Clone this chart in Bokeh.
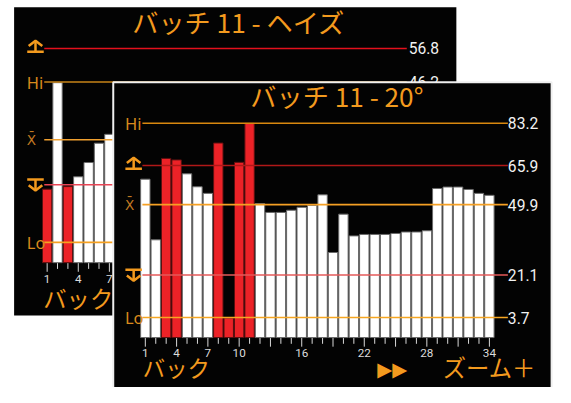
from bokeh.plotting import figure
from bokeh.models import Range1d, ColumnDataSource
from bokeh.embed import file_html
from bokeh.resources import INLINE
from bokeh.core.properties import value

# ---------------- data ----------------
front_title = "バッチ 11 - 20°"
front_batches = list(range(1, 35))
front_values = [60.3, 35.5, 68.8, 68.2, 62.5, 57.2, 54.5, 75.1, 3.5, 67.2,
                83.2, 50.3, 46.7, 46.7, 47.6, 48.8, 49.6, 53.9, 30.3, 46.0,
                37.1, 37.7, 37.7, 37.7, 38.1, 38.7, 38.7, 39.2, 56.5, 57.1,
                57.1, 56.1, 54.5, 53.7]
front_tick_labels = [1, 4, 7, 10, 16, 22, 28, 34]
front_limit_names = ["Hi", "UCL", "Mean", "LCL", "Lo"]
front_limit_values = [83.2, 65.9, 49.9, 21.1, 3.7]

back_title = "バッチ 11 - ヘイズ"
back_batches = [1, 2, 3, 4, 5, 6, 7]
back_values = [12.4, 46.0, 13.2, 16.3, 20.8, 26.9, 29.7]
back_tick_labels = [1, 4, 7]
back_limit_names = ["Hi", "UCL", "Mean", "LCL", "Lo"]
back_limit_values = [46.2, 56.8, 28.0, 13.8, -4.4]

# ---------------- layout ----------------
# The canvas is laid out in a 571 x 403 design space, drawn into 555 x 387 px.
W, H = 555, 387
PX_L, PX_R, PX_T, PX_B = 0, 571, 0, 403
S = W / PX_R  # font scale


def fs(px):
    return f"{px * S:.1f}px"


# front panel geometry (design-space pixels)
F_X1_PX, F_XSTEP = 149.0, 10.727
F_BASE_PX, F_SCALE, F_BASE_VAL = 351.0, 2.545, -4.5
# back panel geometry
B_X1_PX, B_XSTEP = 48.0, 10.67
B_BASE_PX, B_SCALE, B_BASE_VAL = 273.0, 3.30, -10.8


def xr(x1px, step):
    return Range1d(1 + (PX_L - x1px) / step, 1 + (PX_R - x1px) / step)


def yr(base_px, scale, base_val):
    return Range1d(base_val + (base_px - PX_B) / scale, base_val + (base_px - PX_T) / scale)


def f_px(v):
    return F_BASE_PX - (v - F_BASE_VAL) * F_SCALE


def b_px(v):
    return B_BASE_PX - (v - B_BASE_VAL) * B_SCALE


p = figure(width=W, height=H, x_range=Range1d(PX_L, PX_R), y_range=Range1d(PX_B, PX_T),
           x_axis_type=None, y_axis_type=None, toolbar_location=None,
           output_backend="svg", min_border=0, outline_line_color=None,
           background_fill_color="white", border_fill_color="white")
p.extra_x_ranges = {"fx": xr(F_X1_PX, F_XSTEP), "bx": xr(B_X1_PX, B_XSTEP)}
p.extra_y_ranges = {"fy": yr(F_BASE_PX, F_SCALE, F_BASE_VAL),
                    "by": yr(B_BASE_PX, B_SCALE, B_BASE_VAL)}

ORANGE = "#f39a1e"
LABEL_OR = "#d98a1c"
CJK = value("Noto Sans CJK JP")

line_colors_front = {"Hi": "#d9880f", "UCL": "#b01818", "Mean": "#f5a024",
                     "LCL": "#e45a5a", "Lo": "#f5a623"}
line_colors_back = {"Hi": "#c98418", "UCL": "#e3101c", "Mean": "#f0a030",
                    "LCL": "#e84454", "Lo": "#f5a020"}


def ucl_symbol(cx, cy, color):
    p.multi_line(xs=[[cx - 7, cx, cx + 7], [cx, cx], [cx - 8.5, cx + 8.5]],
                 ys=[[cy - 1, cy - 6.5, cy - 1], [cy - 6.5, cy + 5], [cy + 5, cy + 5]],
                 line_color=color, line_width=2.5)


def lcl_symbol(cx, cy, color):
    p.multi_line(xs=[[cx - 8.5, cx + 8.5], [cx, cx], [cx - 7, cx, cx + 7]],
                 ys=[[cy - 5, cy - 5], [cy - 5, cy + 6.5], [cy + 1, cy + 6.5, cy + 1]],
                 line_color=color, line_width=2.5)


def draw_panel(values, batches, names, lims, xname, yname, conv, colors,
               line_x0, line_x1, lab_x, val_x, base_val, tick_top, tick_labels,
               tick_lab_y, title, title_x, title_y):
    lim = dict(zip(names, lims))
    # bars (red when outside the control limits)
    ucl, lcl = lim["UCL"], lim["LCL"]
    red = [(v > ucl or v < lcl) for v in values]
    src = ColumnDataSource(dict(x=batches, top=values,
                                fill=["#ec2227" if r else "#ffffff" for r in red],
                                line=["#5a1010" if r else "#6a6a6a" for r in red]))
    p.vbar(x="x", top="top", bottom=base_val, width=0.9, fill_color="fill",
           line_color="line", line_width=1, source=src,
           x_range_name=xname, y_range_name=yname)
    # limit lines
    for n in names:
        p.segment(x0=[line_x0], x1=[line_x1], y0=[lim[n]], y1=[lim[n]],
                  line_color=colors[n], line_width=1.6, y_range_name=yname)
    # right value labels
    p.text(x=[val_x] * len(names), y=[lim[n] for n in names],
           text=[f"{lim[n]:.1f}" for n in names], text_color="#f2f2f2",
           text_font=value("Roboto"), text_font_size=fs(16),
           text_align="left", text_baseline="middle", y_range_name=yname)
    # left labels
    p.text(x=[lab_x, lab_x], y=[lim["Hi"], lim["Lo"]], text=["Hi", "Lo"],
           text_color=LABEL_OR, text_font=value("Noto Sans"), text_font_size=fs(17),
           text_align="left", text_baseline="middle", y_range_name=yname)
    p.text(x=[lab_x], y=[lim["Mean"]], text=["X\u0304"], text_color="#c27a22",
           text_font=value("DejaVu Sans"), text_font_size=fs(14),
           text_align="left", text_baseline="middle", y_range_name=yname)
    ucl_symbol(lab_x + 9, conv(lim["UCL"]) - 1.5, ORANGE)
    lcl_symbol(lab_x + 9, conv(lim["LCL"]) - 0.5, ORANGE)
    # ticks
    short = [b for b in batches if (b - 1) % 3 != 0]
    long_ = [b for b in batches if (b - 1) % 3 == 0]
    p.segment(x0=short, x1=short, y0=[tick_top] * len(short), y1=[tick_top + 6] * len(short),
              line_color="#d8d8d8", line_width=1, x_range_name=xname)
    p.segment(x0=long_, x1=long_, y0=[tick_top] * len(long_), y1=[tick_top + 9] * len(long_),
              line_color="#d8d8d8", line_width=1, x_range_name=xname)
    p.text(x=tick_labels, y=[tick_lab_y] * len(tick_labels),
           text=[str(t) for t in tick_labels], text_color="#dcdcdc",
           text_font=value("Roboto"), text_font_size=fs(12),
           text_align="center", text_baseline="middle", x_range_name=xname)
    # title
    p.text(x=[title_x], y=[title_y], text=[title], text_color=ORANGE, text_font=CJK,
           text_font_size=fs(27), text_align="center", text_baseline="middle")


# ---------------- back panel ----------------
p.quad(left=[14], right=[469], top=[7], bottom=[328], fill_color="#030303", line_color=None)
draw_panel(back_values, back_batches, back_limit_names, back_limit_values, "bx", "by",
           b_px, line_colors_back, 45, 418, 27, 420, B_BASE_VAL, 273.5, back_tick_labels,
           290, back_title, 245, 22)
p.text(x=[80], y=[310], text=["バック"], text_color=ORANGE, text_font=CJK,
       text_font_size=fs(24), text_align="center", text_baseline="middle")

# ---------------- front panel ----------------
p.quad(left=[116], right=[567], top=[85], bottom=[410], fill_color="#030303",
       line_color="#efefef", line_width=2)
draw_panel(front_values, front_batches, front_limit_names, front_limit_values, "fx", "fy",
           f_px, line_colors_front, 146, 522, 128, 522, F_BASE_VAL, 351.5, front_tick_labels,
           367.5, front_title, 346, 99)
p.text(x=[181], y=[382], text=["バック"], text_color=ORANGE, text_font=CJK,
       text_font_size=fs(23), text_align="center", text_baseline="middle")
p.text(x=[403], y=[384], text=["▶▶"], text_color=ORANGE, text_font=value("DejaVu Sans"),
       text_font_size=fs(20), text_align="center", text_baseline="middle")
p.text(x=[503], y=[382], text=["ズーム＋"], text_color=ORANGE, text_font=CJK,
       text_font_size=fs(24), text_align="center", text_baseline="middle")

open("out.html", "w").write(file_html(p, INLINE))
